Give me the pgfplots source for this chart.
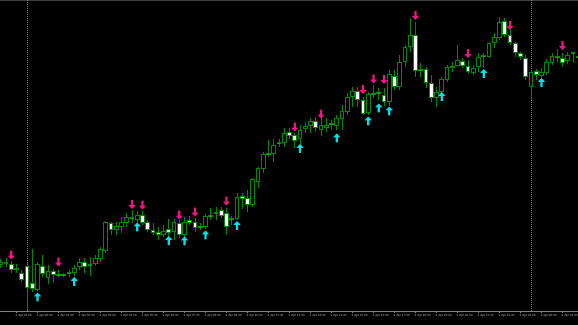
\documentclass[border=0pt]{standalone}
\usepackage{fontspec}
\setmainfont{Liberation Sans}
\usepackage{pgfplots}
\usepackage{pgfplotstable}
\pgfplotsset{compat=1.18}
\definecolor{cg}{RGB}{0,140,0}
\definecolor{mag}{RGB}{238,20,130}
\definecolor{cy}{RGB}{0,225,235}
\definecolor{lbl}{RGB}{185,185,195}
\definecolor{sep}{RGB}{128,128,128}

\pgfdeclareplotmark{upar}{%
 \pgfpathmoveto{\pgfqpoint{0pt}{4.5pt}}%
 \pgfpathlineto{\pgfqpoint{3.6pt}{0.6pt}}%
 \pgfpathlineto{\pgfqpoint{1.1pt}{0.6pt}}%
 \pgfpathlineto{\pgfqpoint{1.1pt}{-4.5pt}}%
 \pgfpathlineto{\pgfqpoint{-1.1pt}{-4.5pt}}%
 \pgfpathlineto{\pgfqpoint{-1.1pt}{0.6pt}}%
 \pgfpathlineto{\pgfqpoint{-3.6pt}{0.6pt}}%
 \pgfpathclose\pgfusepathqfill}
\pgfdeclareplotmark{dnar}{%
 \pgfpathmoveto{\pgfqpoint{0pt}{-4.5pt}}%
 \pgfpathlineto{\pgfqpoint{3.6pt}{-0.6pt}}%
 \pgfpathlineto{\pgfqpoint{1.1pt}{-0.6pt}}%
 \pgfpathlineto{\pgfqpoint{1.1pt}{4.5pt}}%
 \pgfpathlineto{\pgfqpoint{-1.1pt}{4.5pt}}%
 \pgfpathlineto{\pgfqpoint{-1.1pt}{-0.6pt}}%
 \pgfpathlineto{\pgfqpoint{-3.6pt}{-0.6pt}}%
 \pgfpathclose\pgfusepathqfill}

% bullish candles (close > open)
\pgfplotstableread{
k o h l c
-5 46 52 43 49
-4 47 53 44 49
-2 41 47 38 43
2 21 49 20 47
4 33 46 27 40
9 38 46 35 43
10 44 53 41 49
13 47 56 45 53
14 52 64 49 62
15 60 90 58 89
17 81 89 76 85
18 84 94 78 89
19 88 98 84 94
21 91 100 87 96
26 76 86 74 80
28 79 92 71 89
30 76 94 74 89
34 84 97 82 95
40 92 118 91 114
43 106 133 104 132
44 129 144 123 143
45 142 159 138 157
47 157 172 149 166
49 168 183 164 178
52 172 186 164 181
53 182 189 178 185
54 185 193 178 190
56 181 194 175 186
57 183 193 179 186
59 185 196 181 193
60 192 206 181 200
61 199 218 196 214
62 214 224 204 220
65 198 219 196 217
69 209 241 205 237
71 224 256 221 249
72 249 266 244 264
73 264 293 259 276
78 213 224 204 219
79 219 234 218 232
80 231 246 229 244
81 243 249 239 245
82 245 266 244 251
85 238 246 236 243
86 244 258 239 254
88 254 269 253 268
89 268 278 263 274
90 273 294 271 289
96 224 241 211 239
98 235 243 231 239
99 238 252 236 249
100 248 258 246 255
103 250 259 247 256
}\bull

% bearish candles (close < open), dojis included
\pgfplotstableread{
k o h l c
-3 47 50 38 41
-1 38 41 29 31
0 45 48 1 23
1 28 62 19 22
3 45 56 34 37
5 40 42 28 36
6 37 41 34 35
7 37 38 34 35
8 39 41 34 37
11 49 53 38 44
12 47 54 35 45
16 88 89 76 81
20 94 101 88 92
22 96 100 86 88
23 89 91 79 81
24 81 88 76 78
25 79 84 71 76
27 82 92 74 78
29 88 91 73 76
31 91 95 86 88
32 89 93 79 83
33 85 88 81 83
35 96 103 91 94
36 99 104 91 97
37 101 104 93 95
38 98 103 76 84
39 93 95 86 91
41 115 118 102 112
42 113 121 99 106
46 158 171 154 156
48 169 172 164 167
50 179 183 172 175
51 176 178 163 170
55 190 194 179 183
58 188 191 181 186
63 220 224 204 211
64 211 214 196 197
66 218 226 213 216
67 219 223 211 217
68 216 223 205 209
70 235 241 221 224
74 276 289 234 240
75 242 248 234 240
76 242 244 223 228
77 228 236 209 213
83 250 253 243 245
84 245 251 237 239
87 256 258 243 254
91 290 293 274 276
92 276 282 266 268
93 268 269 254 258
94 258 259 251 254
95 253 256 231 234
97 240 242 231 236
101 255 262 249 253
102 253 258 244 248
104 259 259 249 257
105 255 256 249 253
}\bear

\pgfplotstableread{
k y
-3 56
6 49
20 106.5
22 106
29 96
32 99
38 110
51 184
56 197
64 221.5
66 232
68 231.5
74 295.5
84 257.5
92 285.5
102 265.5
}\sells

\pgfplotstableread{
k y
2 14
9 29.5
21 84
27 70.5
30 70
34 76
40 85.5
52 162.5
59 173
65 190
67 203
69 200
79 214.5
87 237.5
98 228.5
}\buys

\pgfplotsset{
 wick/.style={-, draw=cg, line width=1bp, line cap=butt,
   quiver={u=0, v={\thisrow{h}-\thisrow{l}}}},
 bodyout/.style={-, draw=cg, line width=4.8bp, line cap=butt,
   quiver={u=0, v={max(abs(\thisrow{c}-\thisrow{o}),1.2)}}},
 bodyin/.style={-, draw=#1, line width=2.8bp, line cap=butt,
   quiver={u=0, v={max(abs(\thisrow{c}-\thisrow{o})-2,0.001)}}},
}

\begin{document}
\begin{tikzpicture}
\path[use as bounding box, fill=black] (0,-14bp) rectangle (578bp,311bp);
\clip (0,-14bp) rectangle (578bp,311bp);
\draw[black!75!white, line width=1.2bp] (0,310.6bp) -- (578bp,310.6bp);
\begin{axis}[
  at={(0,0)}, anchor=south west,
  scale only axis, width=578bp, height=311bp,
  xmin=-5.142857, xmax=104.952381, ymin=0, ymax=311,
  axis x line=bottom, axis y line=none,
  x axis line style={draw=sep, -, line width=0.8bp},
  xtick={-2,2,...,102},
  xticklabels={2 Apr 23:30,3 Apr 00:30,3 Apr 01:30,3 Apr 02:30,3 Apr 03:30,3 Apr 04:30,3 Apr 05:30,3 Apr 06:30,3 Apr 07:30,3 Apr 08:30,3 Apr 09:30,3 Apr 10:30,3 Apr 11:30,3 Apr 12:30,3 Apr 13:30,3 Apr 14:30,3 Apr 15:30,3 Apr 16:30,3 Apr 17:30,3 Apr 18:30,3 Apr 19:30,3 Apr 20:30,3 Apr 21:30,3 Apr 22:30,3 Apr 23:30,4 Apr 00:30,4 Apr 01:30},
  xticklabel style={font=\fontsize{3.1}{3.1}\selectfont, text=lbl, anchor=north west, inner sep=0pt, xshift=-1bp, yshift=-1.5bp},
  tick style={draw=sep, line width=0.6bp}, major tick length=2bp, tick align=outside,
  clip=true,
]
\addplot[sep, line width=0.8bp, dash pattern=on 1bp off 1bp] coordinates {(0,0) (0,311)};
\addplot[sep, line width=0.8bp, dash pattern=on 1bp off 1bp] coordinates {(96,0) (96,311)};

\addplot[wick] table[x=k, y=l] {\bull};
\addplot[wick] table[x=k, y=l] {\bear};

\addplot[bodyout] table[x=k, y expr={min(\thisrow{o},\thisrow{c})}] {\bull};
\addplot[bodyout] table[x=k, y expr={min(\thisrow{o},\thisrow{c})}] {\bear};
\addplot[bodyin=black] table[x=k, y expr={min(\thisrow{o},\thisrow{c})+1}] {\bull};
\addplot[bodyin=white] table[x=k, y expr={min(\thisrow{o},\thisrow{c})+1}] {\bear};

\addplot[only marks, mark=dnar, color=mag] table[x=k, y=y] {\sells};
\addplot[only marks, mark=upar, color=cy] table[x=k, y=y] {\buys};
\end{axis}
\end{tikzpicture}
\end{document}
